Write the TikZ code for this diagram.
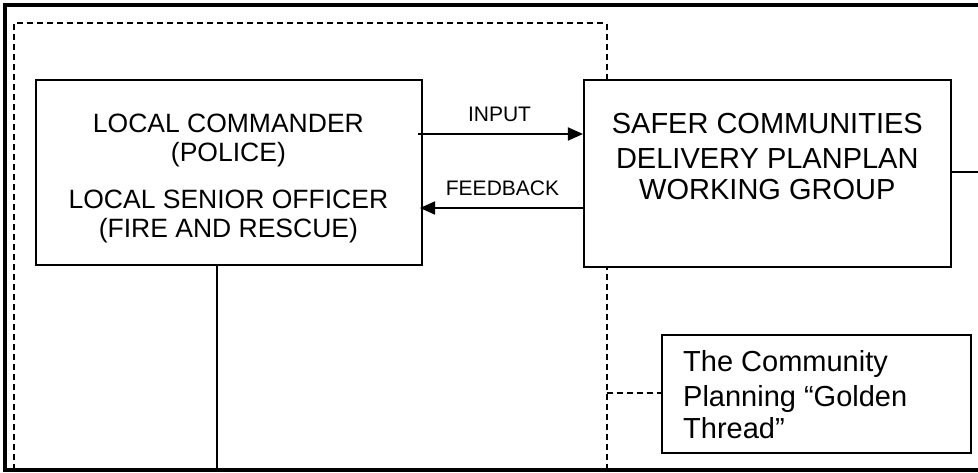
\documentclass[tikz,border=0pt]{standalone}
\usepackage{fontspec}
\setmainfont{Liberation Sans}
\usetikzlibrary{arrows.meta}
\begin{document}
\begin{tikzpicture}[x=1pt,y=-1pt,
  boxline/.style={draw=black,line width=2pt,fill=white,inner sep=0pt},
  dashline/.style={line width=1.8pt,dash pattern=on 6pt off 4pt},
  arrowline/.style={line width=1.8pt,-{Triangle[length=15pt,width=13pt]}},
  lefttxt/.style={anchor=base,inner sep=0pt,font=\fontsize{26.5}{30}\selectfont},
  righttxt/.style={anchor=base,inner sep=0pt,font=\fontsize{29}{33}\selectfont},
  gtxt/.style={anchor=base west,inner sep=0pt,font=\fontsize{29}{33}\selectfont},
  lbl/.style={anchor=base,inner sep=0pt,font=\fontsize{21}{24}\selectfont}]
\useasboundingbox (0,0) rectangle (978,473);
% outer frame (open on the right)
\draw[line width=3.5pt] (978,5) -- (5,5) -- (5,470) -- (978,470);
% dashed enclosure
\coordinate (dtl) at (14.3,23);
\coordinate (dtr) at (606.7,23);
\coordinate (dbl) at (14.3,470);
\coordinate (dbr) at (606.7,470);
\draw[dashline] (dbl) -- (dtl) -- (dtr) -- (dbr);
% boxes
\node[boxline,minimum width=386pt,minimum height=185pt] (lc) at (229,172.5) {};
\node[boxline,minimum width=366.7pt,minimum height=187.3pt] (sc) at (767.3,173.6) {};
\node[boxline,minimum width=309pt,minimum height=118pt] (gt) at (816.5,394) {};
% texts
\node[lefttxt] (t1) at (228.4,132.3) {LOCAL COMMANDER};
\node[lefttxt] (t2) at (228.4,161.7) {(POLICE)};
\node[lefttxt] (t3) at (228.4,208.3) {LOCAL SENIOR OFFICER};
\node[lefttxt] (t4) at (228.4,237.7) {(FIRE AND RESCUE)};
\node[righttxt] (r1) at (767.3,133.3) {SAFER COMMUNITIES};
\node[righttxt] (r2) at (767.3,168.3) {DELIVERY PLANPLAN};
\node[righttxt] (r3) at (767.3,200) {WORKING GROUP};
\node[gtxt] (g1) at (683,371.7) {The Community};
\node[gtxt] (g2) at (683,406.7) {Planning “Golden};
\node[gtxt] (g3) at (683,438.3) {Thread”};
% arrows
\coordinate (inS) at (418,134);
\coordinate (fbE) at (420,208);
\draw[arrowline] (inS) -- (inS -| sc.west);
\draw[arrowline] (sc.west |- fbE) -- (fbE);
\node[lbl] (inl) at (499.5,121.7) {INPUT};
\node[lbl] (fbl) at (502.5,195.7) {FEEDBACK};
% other connectors
\coordinate (lcb) at (216.7,470);
\draw[line width=2pt] (lcb |- lc.south) -- (lcb);
\coordinate (rend) at (978,172);
\draw[line width=2pt] (sc.east |- rend) -- (rend);
\coordinate (gdash) at (606.7,393);
\draw[dashline] (gdash) -- (gdash -| gt.west);
\end{tikzpicture}
\end{document}
